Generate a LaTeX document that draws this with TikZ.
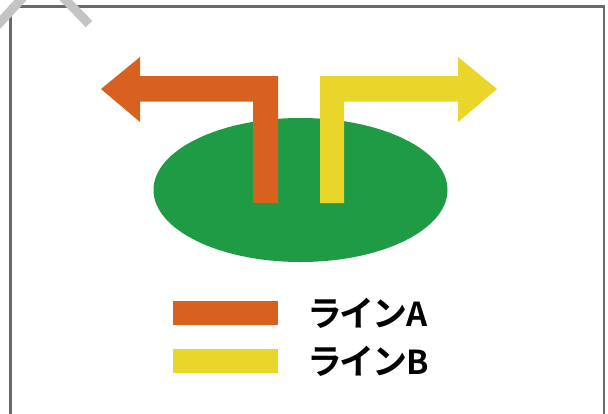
\documentclass[tikz,border=0pt]{standalone}
\usepackage{fontspec}
\usetikzlibrary{shapes.geometric}
\newfontfamily\jpfont{Noto Sans CJK JP}[BoldFont={* Bold}]
\definecolor{lineA}{HTML}{D8611F}
\definecolor{lineB}{HTML}{EAD52A}
\definecolor{field}{HTML}{1F9A45}
\definecolor{framegray}{HTML}{6A6A6A}
\definecolor{tapegray}{HTML}{C4C4C4}
\newcommand{\latinpart}[1]{{\fontsize{33}{33}\selectfont #1}}
\tikzset{
  legendbar/.style={minimum width=105pt, minimum height=24pt, inner sep=0pt, draw=none},
  legendtext/.style={anchor=base west, inner sep=0pt, font=\jpfont\bfseries\fontsize{35}{35}\selectfont},
}
\begin{document}
\begin{tikzpicture}[x=1pt,y=-1pt]
\useasboundingbox (0,0) rectangle (608,413);
\fill[white] (0,0) rectangle (608,413);
% frame
\draw[framegray, line width=2.2pt] (10.5,414) -- (10.5,6.5) -- (604,6.5) -- (604,414);
% tape corner
\begin{scope}
\clip (0,0) rectangle (608,413);
\draw[tapegray, line width=9pt] (-7,30) -- (27,-7);
\draw[tapegray, line width=9pt] (57,-9) -- (89,24);
\end{scope}
% field
\node[ellipse, fill=field, minimum width=294pt, minimum height=144pt, inner sep=0pt] (field) at (300.5,190) {};
% line A arrow
\fill[lineA] (101,89) -- (140,57) -- (140,76) -- (278,76) -- (278,203) -- (253,203)
  -- (253,101.5) -- (140,101.5) -- (140,122) -- cycle;
% line B arrow
\fill[lineB] (320,203) -- (320,76) -- (458,76) -- (458,57) -- (497,89) -- (458,122)
  -- (458,101.5) -- (344,101.5) -- (344,203) -- cycle;
% legend
\node[legendbar, fill=lineA] (barA) at (225.5,313) {};
\node[legendbar, fill=lineB] (barB) at (225.5,361) {};
\node[legendtext] (txtA) at (307,326) {ラ\kern-2.5ptイ\kern-2.5ptン\kern-1pt\latinpart{A}};
\node[legendtext] (txtB) at (307,374) {ラ\kern-2.5ptイ\kern-2.5ptン\kern-1pt\latinpart{B}};
\end{tikzpicture}
\end{document}
